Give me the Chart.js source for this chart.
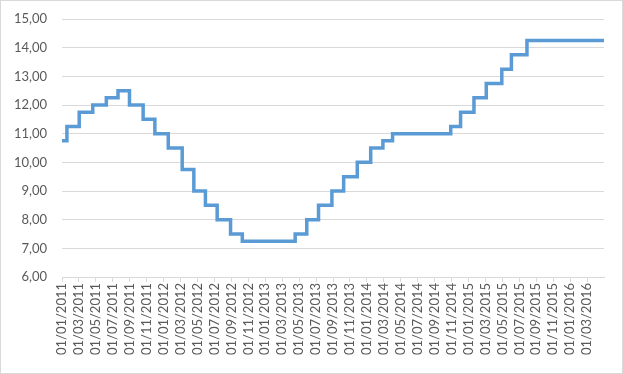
<!DOCTYPE html>
<html lang="pt">
<head>
    <meta charset="UTF-8">
    <title>Selic</title>
    <script src="https://cdn.jsdelivr.net/npm/chart.js"></script>
    <style>
        html, body { margin: 0; padding: 0; background: #ffffff; }
        #wrap { position: relative; width: 623px; height: 374px; box-sizing: border-box; border: 1px solid #d9d9d9; }
        canvas { position: absolute; left: -1px; top: -1px; }
    </style>
</head>
<body>
    <div id="wrap"><canvas id="chart" width="623" height="374"></canvas></div>

    <script>
        // dates when the rate changed (dd/mm/yyyy) and the new rate
        const changeDates = ['01/01/2011', '19/01/2011', '02/03/2011', '20/04/2011', '08/06/2011', '20/07/2011',
            '31/08/2011', '19/10/2011', '30/11/2011', '18/01/2012', '07/03/2012', '18/04/2012', '30/05/2012',
            '11/07/2012', '29/08/2012', '10/10/2012', '17/04/2013', '29/05/2013', '10/07/2013', '28/08/2013',
            '09/10/2013', '27/11/2013', '15/01/2014', '26/02/2014', '02/04/2014', '29/10/2014', '03/12/2014',
            '21/01/2015', '04/03/2015', '29/04/2015', '03/06/2015', '29/07/2015', '01/05/2016'];
        const rates = [10.75, 11.25, 11.75, 12.00, 12.25, 12.50, 12.00, 11.50, 11.00, 10.50, 9.75, 9.00, 8.50,
            8.00, 7.50, 7.25, 7.50, 8.00, 8.50, 9.00, 9.50, 10.00, 10.50, 10.75, 11.00, 11.25, 11.75,
            12.25, 12.75, 13.25, 13.75, 14.25, 14.25];
        // x axis tick labels (every 2 months)
        const tickLabels = ['01/01/2011', '01/03/2011', '01/05/2011', '01/07/2011', '01/09/2011', '01/11/2011',
            '01/01/2012', '01/03/2012', '01/05/2012', '01/07/2012', '01/09/2012', '01/11/2012',
            '01/01/2013', '01/03/2013', '01/05/2013', '01/07/2013', '01/09/2013', '01/11/2013',
            '01/01/2014', '01/03/2014', '01/05/2014', '01/07/2014', '01/09/2014', '01/11/2014',
            '01/01/2015', '01/03/2015', '01/05/2015', '01/07/2015', '01/09/2015', '01/11/2015',
            '01/01/2016', '01/03/2016'];
        const yTicks = [6, 7, 8, 9, 10, 11, 12, 13, 14, 15];

        // months since 01/01/2011, fractional
        function toMonths(s) {
            const [d, m, y] = s.split('/').map(Number);
            const dim = new Date(y, m, 0).getDate();
            return (y - 2011) * 12 + (m - 1) + (d - 1) / dim;
        }

        const points = changeDates.map((d, i) => ({ x: toMonths(d), y: rates[i] }));
        const tickPos = tickLabels.map(toMonths);

        const gridColor = '#d9d9d9';
        Chart.defaults.font.family = 'Lato, "Open Sans", sans-serif';
        Chart.defaults.font.size = 13;
        Chart.defaults.color = '#595959';

        new Chart(document.getElementById('chart'), {
            type: 'line',
            data: {
                datasets: [{
                    data: points,
                    borderColor: '#5b9bd5',
                    borderWidth: 3.5,
                    stepped: 'before',
                    pointRadius: 0,
                    fill: false
                }]
            },
            options: {
                responsive: false,
                animation: false,
                layout: { padding: { left: 0, right: 19, top: 19, bottom: 0 } },
                plugins: { legend: { display: false }, tooltip: { enabled: false } },
                scales: {
                    x: {
                        type: 'linear',
                        min: 0,
                        max: 64,
                        afterBuildTicks: s => { s.ticks = tickPos.map(v => ({ value: v })); },
                        afterFit: s => { s.height = 97; },
                        grid: { drawOnChartArea: false, tickLength: 5, color: gridColor },
                        border: { color: gridColor },
                        ticks: {
                            autoSkip: false,
                            minRotation: 90,
                            maxRotation: 90,
                            padding: 1,
                            callback: (v, i) => tickLabels[i]
                        }
                    },
                    y: {
                        min: 6,
                        max: 15,
                        afterBuildTicks: s => { s.ticks = yTicks.map(v => ({ value: v })); },
                        afterFit: s => { s.width = 62; },
                        // invisible tick marks keep the labels away from the plot
                        grid: { color: gridColor, tickLength: 15, tickColor: 'rgba(0,0,0,0)' },
                        border: { display: false },
                        ticks: {
                            padding: 0,
                            callback: v => v.toFixed(2).replace('.', ',')
                        }
                    }
                }
            }
        });
    </script>
</body>
</html>
